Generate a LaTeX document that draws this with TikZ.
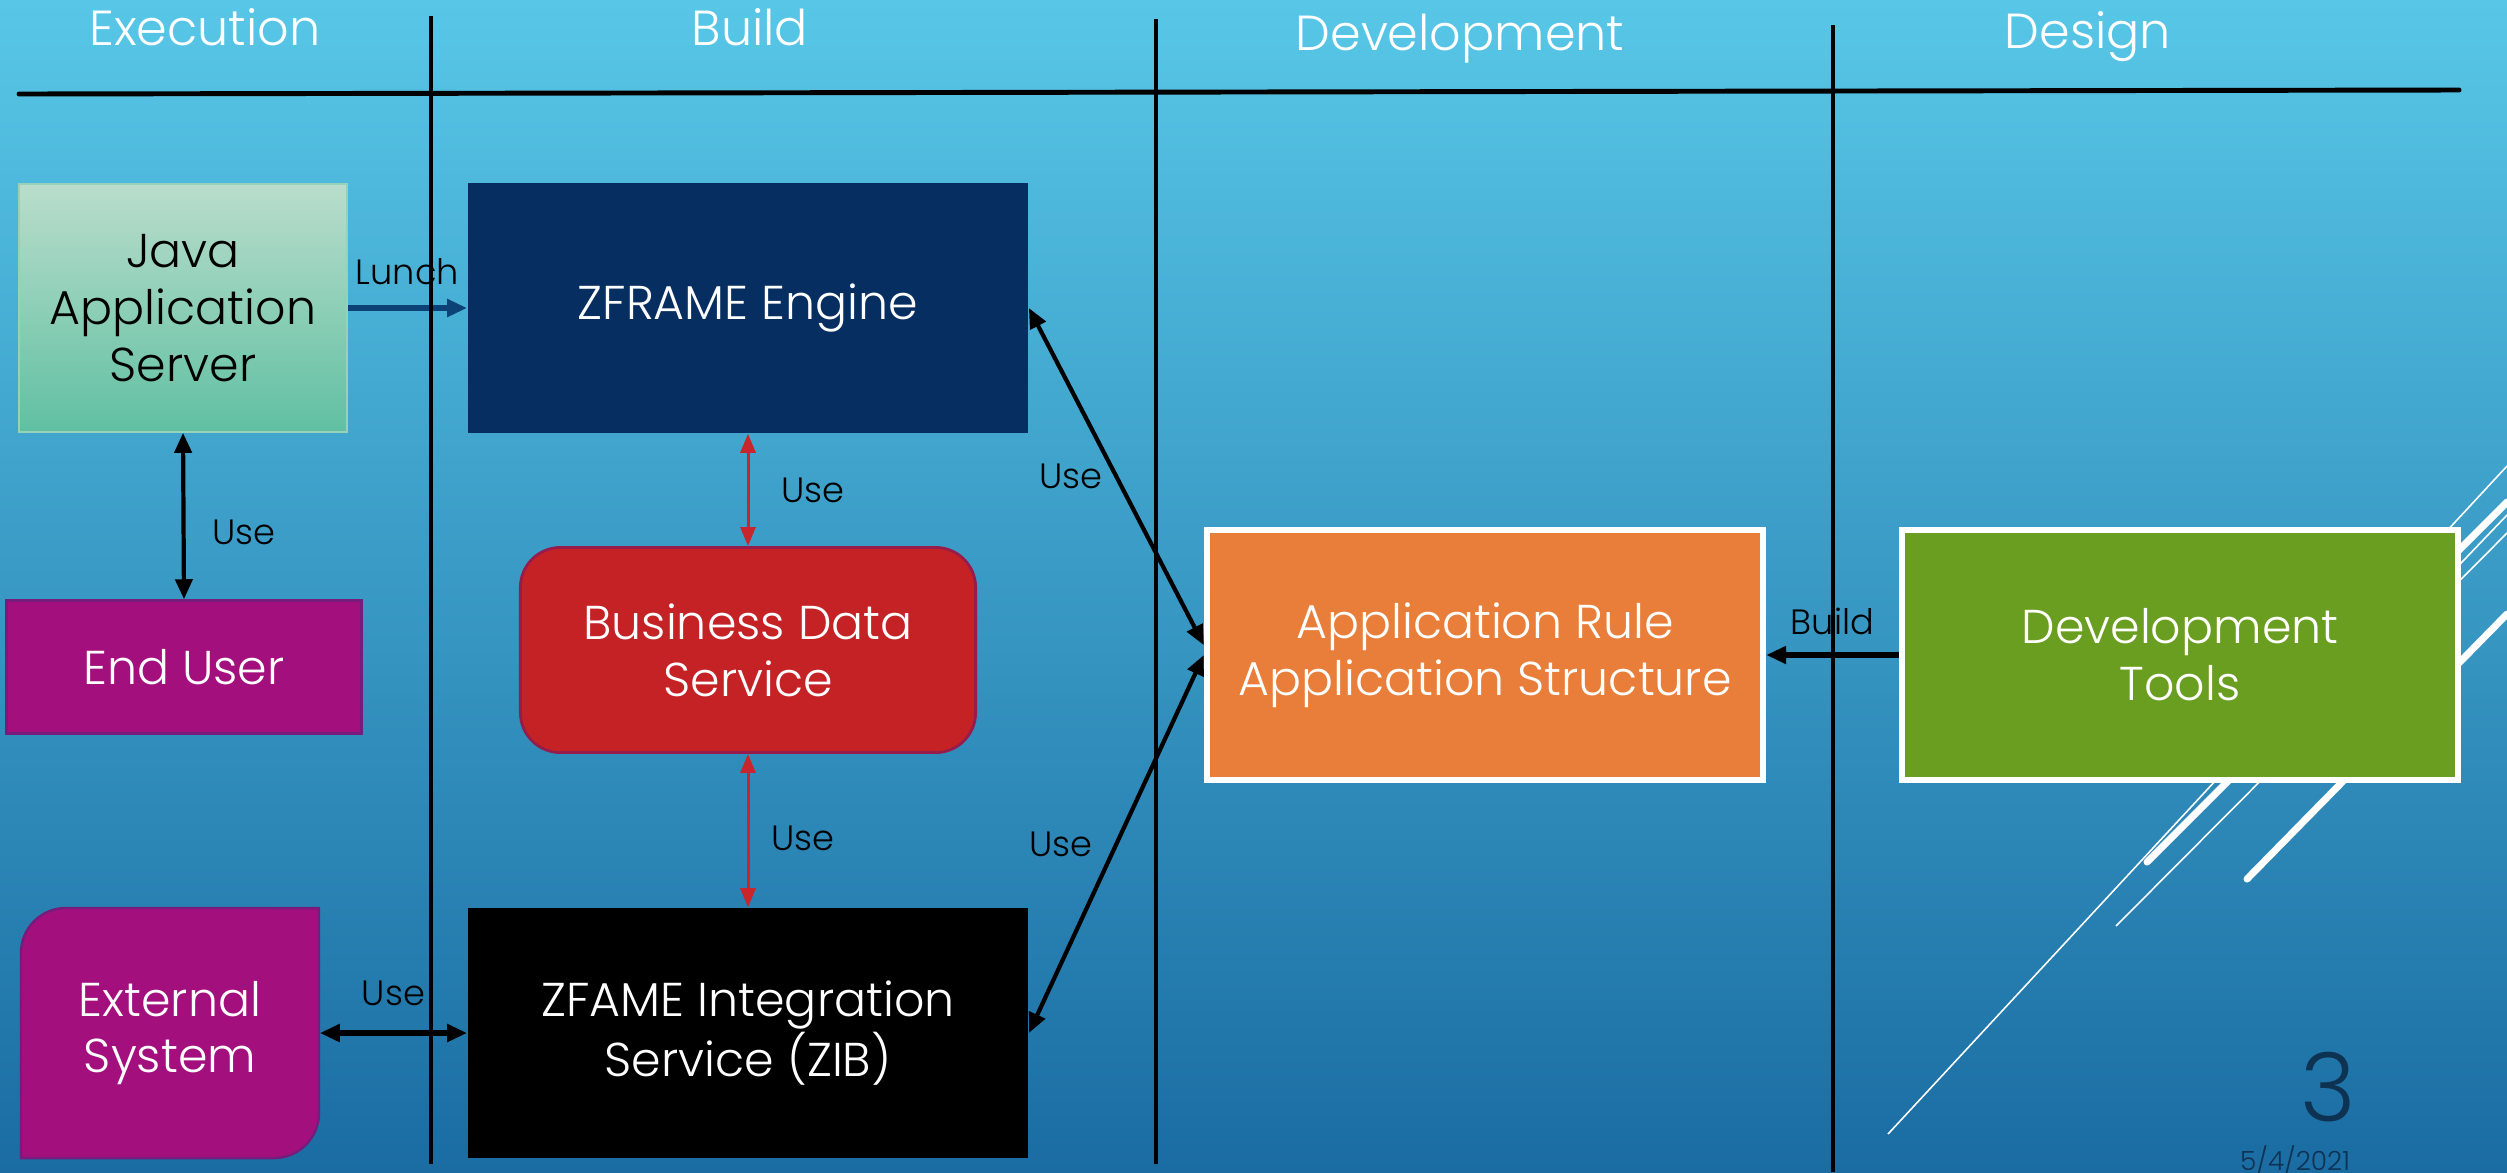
\documentclass[tikz,border=0pt]{standalone}
\usepackage{fontspec}
\IfFontExistsTF{Poppins Light}{\setmainfont{Poppins Light}}{\setmainfont{Poppins}}
\usetikzlibrary{positioning,arrows.meta}

\definecolor{bgtop}{RGB}{88,199,231}
\definecolor{bgbottom}{RGB}{26,108,162}
\definecolor{javatop}{RGB}{186,221,204}
\definecolor{javabottom}{RGB}{96,192,162}
\definecolor{javaedge}{RGB}{150,210,185}
\definecolor{enginenavy}{RGB}{6,46,96}
\definecolor{bizred}{RGB}{197,34,38}
\definecolor{bizedge}{RGB}{150,28,75}
\definecolor{userpurple}{RGB}{164,15,126}
\definecolor{useredge}{RGB}{118,28,122}
\definecolor{ruleorange}{RGB}{232,126,57}
\definecolor{toolgreen}{RGB}{106,158,33}
\definecolor{lunchblue}{RGB}{12,66,118}
\definecolor{redline}{RGB}{200,37,44}
\definecolor{pagenavy}{RGB}{14,50,82}

\tikzstyle{heading} = [font=\fontsize{14}{17}\selectfont, text=white, anchor=base]
\tikzstyle{box} = [rectangle, text centered, align=center, inner sep=0pt, font=\fontsize{13.5}{16.2}\selectfont, text=white]
\tikzstyle{javabox} = [box, top color=javatop, bottom color=javabottom, draw=javaedge, text=black]
\tikzstyle{navybox} = [box, fill=enginenavy]
\tikzstyle{userbox} = [box, fill=userpurple, draw=useredge, line width=0.7pt]
\tikzstyle{bizbox} = [box, rounded corners=0.4cm, fill=bizred, draw=bizedge, line width=0.8pt]
\tikzstyle{zibbox} = [box, fill=black]
\tikzstyle{rulebox} = [box, fill=ruleorange, draw=white, line width=1.7pt]
\tikzstyle{toolbox} = [box, fill=toolgreen, draw=white, line width=1.7pt]
\tikzstyle{linklabel} = [font=\fontsize{10}{12}\selectfont, text=black]
\tikzstyle{lane} = [line width=1.1pt, black]
\tikzstyle{facetthin} = [white, line width=0.45pt]
\tikzstyle{facetthick} = [white, line width=2pt, line cap=round]
\tikzstyle{oneway} = [line width=1.4pt, ->, >={Triangle[length=0.2cm,width=0.17cm]}]
\tikzstyle{twoway} = [line width=1.2pt, <->, >={Triangle[length=0.2cm,width=0.17cm]}]
\tikzstyle{redway} = [line width=0.85pt, redline, <->, >={Triangle[length=0.19cm,width=0.15cm]}]

\begin{document}
\begin{tikzpicture}[x=0.01cm, y=-0.01cm]
    \shade [top color=bgtop, bottom color=bgbottom] (0,0) rectangle (2507,1172);
    \useasboundingbox (0,0) rectangle (2507,1172);

    % facet lines at the right
    \draw [facetthin] (1888,1134) -- (2507,466);
    \draw [facetthick] (2147,862) -- (2507,502);
    \draw [facetthin] (2116,926) -- (2507,533);
    \draw [facetthin] (2330,700) -- (2507,515);
    \draw [facetthick] (2247,879) -- (2507,614);

    % headings
    \node (exec) [heading] at (205,45) {Execution};
    \node (build) [heading] at (750,45) {Build};
    \node (develop) [heading] at (1460,50) {Development};
    \node (design) [heading] at (2088,48) {Design};
    \draw [line width=1.4pt, line cap=round] (19,94) -- (2459,90);

    % boxes
    \node (java) [javabox, minimum width=3.28cm, minimum height=2.48cm] at (183,308) {Java\\Application\\Server};
    \node (engine) [navybox, minimum width=5.6cm, minimum height=2.5cm] at (748,308) {ZFRAME Engine};
    \node (enduser) [userbox, minimum width=3.55cm, minimum height=1.33cm] at (184,667) {End User};
    \node (bizdata) [bizbox, minimum width=4.55cm, minimum height=2.05cm] at (748,650) {Business Data\\Service};
    \filldraw [fill=userpurple, draw=useredge, line width=0.7pt] (319,908) -- (319,1113) arc[start angle=0, end angle=-90, radius=0.45cm] -- (21,1158) -- (21,953) arc[start angle=180, end angle=90, radius=0.45cm] -- cycle;
    \node (external) [box, minimum width=2.98cm, minimum height=2.5cm] at (170,1033) {External\\System};
    \node (zib) [zibbox, minimum width=5.6cm, minimum height=2.5cm] at (748,1033) {ZFAME Integration\\Service (ZIB)};
    \node (apprule) [rulebox, minimum width=5.56cm, minimum height=2.49cm] at (1485,655) {Application Rule\\Application Structure};
    \node (devtools) [toolbox, minimum width=5.56cm, minimum height=2.49cm] at (2180,655) {Development\\Tools};

    % links
    \draw [oneway, lunchblue, line width=1.7pt] (java) -- node [linklabel, above=0.08cm] {Lunch} (engine);
    \draw [twoway] (java.south) -- node [linklabel, right=0.15cm, pos=0.6] {Use} (enduser.north);
    \draw [redway] (engine) -- node [linklabel, right=0.2cm] {Use} (bizdata);
    \draw [redway] (bizdata) -- node [linklabel, right=0.1cm, pos=0.55] {Use} (zib);
    \draw [twoway, line width=1.7pt] (external) -- node [linklabel, above=0.13cm] {Use} (zib);
    \draw [twoway] (engine.east) -- node [linklabel, left] {Use} (apprule.178);
    \draw [twoway] (zib.east) -- node [linklabel, left=0.1cm] {Use} (apprule.west);
    \draw [oneway, line width=1.8pt] (devtools) -- node [linklabel, above=0.05cm] {Build} (apprule);

    % lanes
    \draw [lane] (431,16) -- (431,1164);
    \draw [lane] (1156,19) -- (1156,1164);
    \draw [lane] (1833,25) -- (1833,1172);

    \node (pagenum) [font=\fontsize{27}{30}\selectfont, text=pagenavy, anchor=base, inner sep=0pt] at (2328,1121) {3};
    \node (pagedate) [font=\fontsize{7.5}{9}\selectfont, text=pagenavy, anchor=base, inner sep=0pt] at (2295,1170) {5/4/2021};
\end{tikzpicture}
\end{document}
